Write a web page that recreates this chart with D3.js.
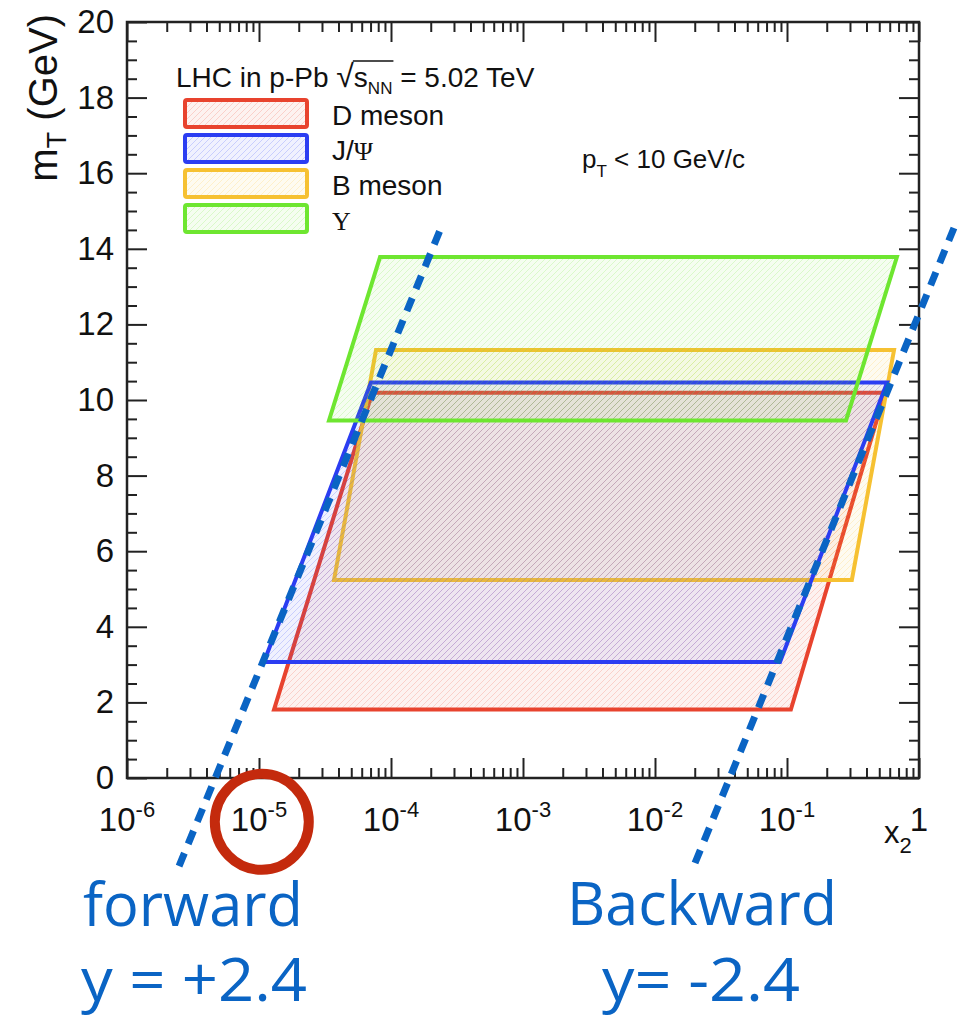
<!DOCTYPE html>
<html><head><meta charset="utf-8">
<script src="https://cdn.jsdelivr.net/npm/d3@7"></script>
<style>body{margin:0;background:#fff}svg{display:block}</style>
</head><body><svg id="c" width="967" height="1020"></svg>
<script>
// ---------- data ----------
const categories = ["D meson", "J/Ψ", "B meson", "Υ"];
const mTLow  = [1.81, 3.07, 5.24, 9.46];
const mTHigh = [10.19, 10.46, 11.32, 13.78];
const x2BottomLow  = [1.30e-5, 1.09e-5, 3.7e-5, 3.39e-5];
const x2BottomHigh = [0.107, 0.0885, 0.31, 0.28];
const x2TopLow  = [7.2e-5, 7.05e-5, 7.7e-5, 8.26e-5];
const x2TopHigh = [0.552, 0.573, 0.647, 0.68];
const seriesColors = ["#e8432e", "#2b3df2", "#f6c132", "#6ee630"];
const drawOrder = [0, 2, 1, 3];

const xMajorTicks = [1e-6, 1e-5, 1e-4, 1e-3, 1e-2, 1e-1, 1];
const xTickBase = ["10", "10", "10", "10", "10", "10", "1"];
const xTickExp  = ["-6", "-5", "-4", "-3", "-2", "-1", ""];
const yMajorTicks = [0, 2, 4, 6, 8, 10, 12, 14, 16, 18, 20];
const yTickLabels = ["0", "2", "4", "6", "8", "10", "12", "14", "16", "18", "20"];

const lineForwardX2  = [2.48e-6, 2.39e-4];
const lineForwardMT  = [-2.33, 14.55];
const lineBackwardX2 = [0.0201, 1.84];
const lineBackwardMT = [-2.25, 14.55];
const circleCenter = [1.05e-5, -1.16];
const rapidityNames  = ["forward", "Backward"];
const rapidityValues = ["y = +2.4", "y= -2.4"];

// ---------- setup ----------
const svg = d3.select("#c");
const FONT = "'Liberation Sans', Arial, Helvetica, sans-serif";
const SERIF = "'Liberation Serif', 'DejaVu Serif', serif";
const x = d3.scaleLog().domain([1e-6, 1]).range([127, 919]);
const y = d3.scaleLinear().domain([0, 20]).range([778, 22]);

const defs = svg.append("defs");
seriesColors.forEach((c, i) => {
  const p = defs.append("pattern").attr("id", "h" + i)
    .attr("patternUnits", "userSpaceOnUse").attr("width", 6).attr("height", 6);
  p.append("rect").attr("width", 6).attr("height", 6).attr("fill", c).attr("opacity", 0.07);
  p.append("path").attr("d", "M-1,1 L1,-1 M0,6 L6,0 M5,7 L7,5")
    .attr("stroke", c).attr("stroke-width", 1.0).attr("opacity", 0.2);
});

// ---------- parallelograms ----------
const shapes = svg.append("g");
drawOrder.forEach(i => {
  const pts = [[x(x2BottomLow[i]), y(mTLow[i])], [x(x2BottomHigh[i]), y(mTLow[i])],
               [x(x2TopHigh[i]), y(mTHigh[i])], [x(x2TopLow[i]), y(mTHigh[i])]];
  shapes.append("path").attr("d", d3.line()(pts) + "Z")
    .attr("fill", `url(#h${i})`).attr("stroke", seriesColors[i])
    .attr("stroke-width", 4).attr("stroke-linejoin", "miter");
});

// ---------- axes ----------
const xMinor = [];
xMajorTicks.slice(0, -1).forEach(d => { for (let m = 2; m <= 9; m++) xMinor.push(d * m); });
const yMinor = d3.range(0, 20.001, 0.5).filter(v => v % 2 !== 0);

function styleAxis(g) {
  g.select(".domain").remove();
  g.selectAll("line").attr("stroke", "#222").attr("stroke-width", 2);
}
svg.append("g").attr("transform", `translate(0,${y(0)})`)
  .call(d3.axisBottom(x).tickValues(xMajorTicks).tickSize(-20).tickFormat("")).call(styleAxis);
svg.append("g").attr("transform", `translate(0,${y(0)})`)
  .call(d3.axisBottom(x).tickValues(xMinor).tickSize(-10).tickFormat("")).call(styleAxis);
svg.append("g").attr("transform", `translate(0,${y(20)})`)
  .call(d3.axisTop(x).tickValues(xMajorTicks).tickSize(-20).tickFormat("")).call(styleAxis);
svg.append("g").attr("transform", `translate(0,${y(20)})`)
  .call(d3.axisTop(x).tickValues(xMinor).tickSize(-10).tickFormat("")).call(styleAxis);

const yl = svg.append("g").attr("transform", `translate(${x(1e-6)},0)`)
  .call(d3.axisLeft(y).tickValues(yMajorTicks).tickSize(-20).tickPadding(13)
    .tickFormat((d, i) => yTickLabels[i])).call(styleAxis);
yl.selectAll("text").attr("font-family", FONT).attr("font-size", 33).attr("fill", "#111");
svg.append("g").attr("transform", `translate(${x(1e-6)},0)`)
  .call(d3.axisLeft(y).tickValues(yMinor).tickSize(-10).tickFormat("")).call(styleAxis);
svg.append("g").attr("transform", `translate(${x(1)},0)`)
  .call(d3.axisRight(y).tickValues(yMajorTicks).tickSize(-20).tickFormat("")).call(styleAxis);
svg.append("g").attr("transform", `translate(${x(1)},0)`)
  .call(d3.axisRight(y).tickValues(yMinor).tickSize(-10).tickFormat("")).call(styleAxis);

svg.append("rect").attr("x", x(1e-6)).attr("y", y(20))
  .attr("width", x(1) - x(1e-6)).attr("height", y(0) - y(20))
  .attr("fill", "none").attr("stroke", "#222").attr("stroke-width", 2.5);

// x tick labels
xMajorTicks.forEach((v, i) => {
  const t = svg.append("text").attr("x", x(v)).attr("y", 831)
    .attr("text-anchor", "middle").attr("font-family", FONT).attr("font-size", 33).attr("fill", "#111");
  t.append("tspan").text(xTickBase[i]);
  if (xTickExp[i]) t.append("tspan").attr("font-size", 22).attr("dy", -14).text(xTickExp[i]);
});

// axis titles
const xt = svg.append("text").attr("x", 884).attr("y", 843)
  .attr("font-family", FONT).attr("font-size", 31).attr("fill", "#111");
xt.append("tspan").text("x");
xt.append("tspan").attr("font-size", 22).attr("dy", 10).text("2");

const ytl = svg.append("text").attr("transform", "translate(57,14) rotate(-90)")
  .attr("text-anchor", "end").attr("font-family", FONT).attr("font-size", 40).attr("fill", "#111");
ytl.append("tspan").text("m");
ytl.append("tspan").attr("font-size", 27).attr("dy", 9).text("T");
ytl.append("tspan").attr("dy", -9).text(" (GeV)");

// ---------- legend ----------
const hdr = svg.append("text").attr("x", 176).attr("y", 87)
  .attr("font-family", FONT).attr("font-size", 28).attr("fill", "#111");
hdr.append("tspan").text("LHC in p-Pb ");
hdr.append("tspan").attr("font-size", 32).text("√");
hdr.append("tspan").text("s");
hdr.append("tspan").attr("font-size", 17).attr("dy", 7).text("NN");
hdr.append("tspan").attr("dy", -7).text(" = 5.02 TeV");
{
  const n = hdr.node();
  const rad = "LHC in p-Pb ".length;
  const ext = n.getExtentOfChar(rad);
  const endNN = n.getEndPositionOfChar(rad + 3);
  svg.append("line").attr("x1", ext.x + ext.width - 1).attr("x2", endNN.x + 1)
    .attr("y1", ext.y + 3).attr("y2", ext.y + 3).attr("stroke", "#111").attr("stroke-width", 1.5);
}

const legendTop = [100, 135, 170, 205];
categories.forEach((c, i) => {
  svg.append("rect").attr("x", 185).attr("y", legendTop[i]).attr("width", 122).attr("height", 27)
    .attr("rx", 2).attr("fill", `url(#h${i})`).attr("stroke", seriesColors[i]).attr("stroke-width", 4);
  const t = svg.append("text").attr("x", 332).attr("y", legendTop[i] + 25)
    .attr("font-family", FONT).attr("font-size", 28).attr("fill", "#111");
  c.split(/([ΨΥ])/).filter(s => s).forEach(s => {
    const sp = t.append("tspan").text(s);
    if (/[ΨΥ]/.test(s)) sp.attr("font-family", SERIF).attr("font-size", 26);
  });
});

const pt = svg.append("text").attr("x", 582).attr("y", 168)
  .attr("font-family", FONT).attr("font-size", 26).attr("fill", "#111");
pt.append("tspan").text("p");
pt.append("tspan").attr("font-size", 17).attr("dy", 9).text("T");
pt.append("tspan").attr("dy", -9).text(" < 10 GeV/c");

// ---------- annotations ----------
const blue = "#0a64c4";
[[lineForwardX2, lineForwardMT], [lineBackwardX2, lineBackwardMT]].forEach(([xs, ms]) => {
  svg.append("line").attr("x1", x(xs[0])).attr("y1", y(ms[0]))
    .attr("x2", x(xs[1])).attr("y2", y(ms[1]))
    .attr("stroke", blue).attr("stroke-width", 7).attr("stroke-dasharray", "14 10");
});
svg.append("ellipse").attr("cx", x(circleCenter[0])).attr("cy", y(circleCenter[1]))
  .attr("rx", 47).attr("ry", 48).attr("fill", "none").attr("stroke", "#c42a0d").attr("stroke-width", 10);

const ann = [
  {t: rapidityNames[0], x: 83, y: 926, w: 220},
  {t: rapidityValues[0], x: 81, y: 1001, w: 226},
  {t: rapidityNames[1], x: 567, y: 925, w: 270},
  {t: rapidityValues[1], x: 602, y: 1001, w: 198}
];
ann.forEach(a => {
  svg.append("text").attr("x", a.x).attr("y", a.y).attr("font-family", "'Open Sans', 'Noto Sans', sans-serif")
    .attr("font-size", 61).attr("fill", blue).attr("textLength", a.w)
    .attr("lengthAdjust", "spacingAndGlyphs").text(a.t);
});
</script></body></html>
